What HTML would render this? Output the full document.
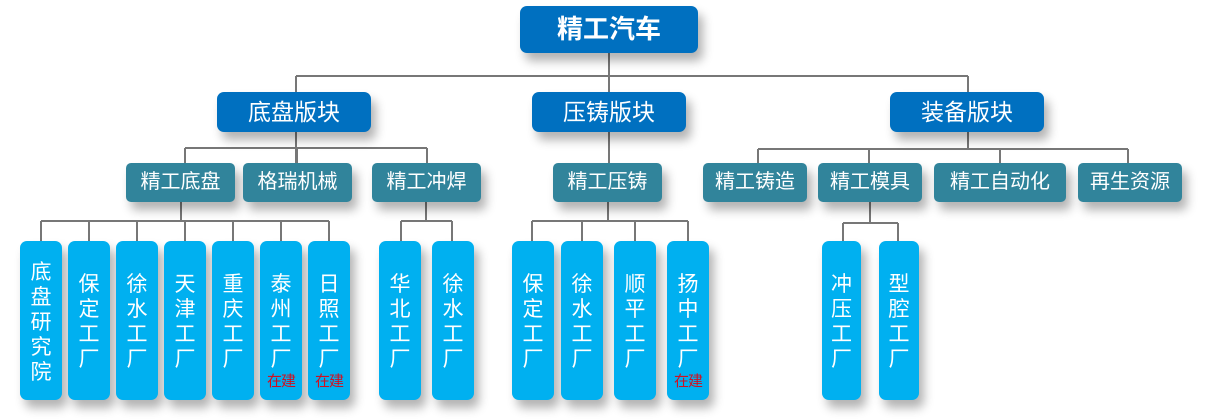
<!DOCTYPE html>
<html><head><meta charset="utf-8"><style>
body{margin:0;width:1230px;height:420px;background:#fff;position:relative;overflow:hidden;font-family:"Liberation Sans","Noto Sans CJK SC",sans-serif}
.b{position:absolute;color:#fff;text-align:center;border-radius:7px;box-shadow:5px 8px 10px rgba(0,0,0,.3)}
.t{background:#0070c0;font-size:23px}
.m{background:#31849b;font-size:20px;height:39px;line-height:39px;top:163px;border-radius:5px}
.l{background:#00b0f0;width:42px;top:241px;height:159px;font-size:21px;line-height:25px;box-sizing:border-box;padding-top:31px}
.l.f{padding-top:19px}
.l span{display:block}
.l i{font-style:normal;color:#d01020;font-size:15px;line-height:16px;position:absolute;left:-2px;right:-2px;top:133px;display:block;letter-spacing:-1px}
svg{position:absolute;left:0;top:0}
</style></head><body>
<svg width="1230" height="420"><g stroke="#777" stroke-width="2" fill="none">
<path d="M609 53V92M296 76H968M296 76V92M968 76V92"/>
<path d="M296 131V163M185 148H427M185 148V163M297 148V163M427 148V163"/>
<path d="M609 131V163"/>
<path d="M968 131V149M758 149H1128M758 149V163M869 149V163M1000 149V163M1128 149V163"/>
<path d="M181 202V221M41 221H329M41 221V241M89 221V241M137 221V241M185 221V241M233 221V241M281 221V241M329 221V241"/>
<path d="M426 202V221M401 221H452M401 221V241M452 221V241"/>
<path d="M608 202V221M532 221H688M532 221V241M582 221V241M635 221V241M688 221V241"/>
<path d="M870 202V223M843 223H898M843 223V241M898 223V241"/>
</g></svg>
<div class="b t" style="left:520px;top:6px;width:178px;height:47px;line-height:47px;font-size:26px;font-weight:bold">精工汽车</div>
<div class="b t" style="left:217px;top:92px;width:154px;height:40px;line-height:40px">底盘版块</div>
<div class="b t" style="left:532px;top:92px;width:154px;height:40px;line-height:40px">压铸版块</div>
<div class="b t" style="left:890px;top:92px;width:154px;height:40px;line-height:40px">装备版块</div>
<div class="b m" style="left:126px;width:109px">精工底盘</div>
<div class="b m" style="left:243px;width:109px">格瑞机械</div>
<div class="b m" style="left:372px;width:109px">精工冲焊</div>
<div class="b m" style="left:553px;width:109px">精工压铸</div>
<div class="b m" style="left:703px;width:104px">精工铸造</div>
<div class="b m" style="left:818px;width:104px">精工模具</div>
<div class="b m" style="left:934px;width:132px">精工自动化</div>
<div class="b m" style="left:1078px;width:104px">再生资源</div>
<div class="b l f" style="left:20px"><span>底</span><span>盘</span><span>研</span><span>究</span><span>院</span></div>
<div class="b l" style="left:68px"><span>保</span><span>定</span><span>工</span><span>厂</span></div>
<div class="b l" style="left:116px"><span>徐</span><span>水</span><span>工</span><span>厂</span></div>
<div class="b l" style="left:164px"><span>天</span><span>津</span><span>工</span><span>厂</span></div>
<div class="b l" style="left:212px"><span>重</span><span>庆</span><span>工</span><span>厂</span></div>
<div class="b l" style="left:260px"><span>泰</span><span>州</span><span>工</span><span>厂</span><i>在建</i></div>
<div class="b l" style="left:308px"><span>日</span><span>照</span><span>工</span><span>厂</span><i>在建</i></div>
<div class="b l" style="left:379px"><span>华</span><span>北</span><span>工</span><span>厂</span></div>
<div class="b l" style="left:432px"><span>徐</span><span>水</span><span>工</span><span>厂</span></div>
<div class="b l" style="left:512px"><span>保</span><span>定</span><span>工</span><span>厂</span></div>
<div class="b l" style="left:561px"><span>徐</span><span>水</span><span>工</span><span>厂</span></div>
<div class="b l" style="left:614px"><span>顺</span><span>平</span><span>工</span><span>厂</span></div>
<div class="b l" style="left:667px"><span>扬</span><span>中</span><span>工</span><span>厂</span><i>在建</i></div>
<div class="b l" style="left:822px;width:39px"><span>冲</span><span>压</span><span>工</span><span>厂</span></div>
<div class="b l" style="left:879px;width:40px"><span>型</span><span>腔</span><span>工</span><span>厂</span></div>
</body></html>
